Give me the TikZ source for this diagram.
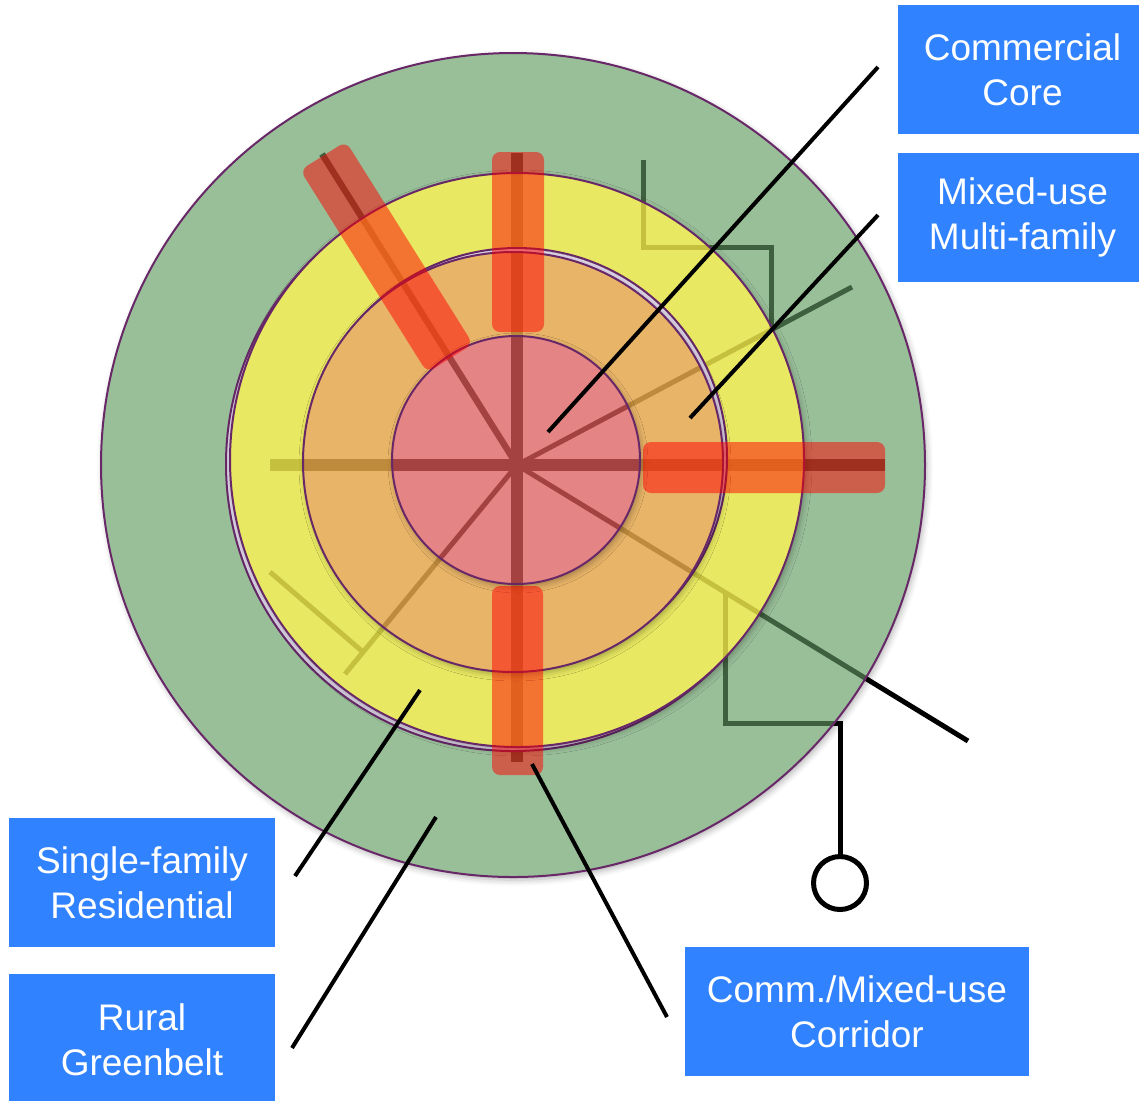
\documentclass[tikz,border=0pt]{standalone}
\usepackage{fontspec}
\setmainfont{Liberation Sans}
\usetikzlibrary{shadows.blur}
\definecolor{gfill}{RGB}{153,191,153}
\definecolor{yfill}{RGB}{232,232,98}
\definecolor{ofill}{RGB}{232,180,104}
\definecolor{pfill}{RGB}{228,132,132}
\definecolor{rim}{RGB}{104,40,104}
\definecolor{rimgap}{RGB}{222,214,232}
\definecolor{gline}{RGB}{63,96,63}
\definecolor{yline}{RGB}{197,193,62}
\definecolor{oline}{RGB}{190,138,60}
\definecolor{pline}{RGB}{164,66,66}
\definecolor{boxblue}{RGB}{48,130,255}
\newcommand{\citylines}{%
  \draw[thickspoke] (hub) -- (517,153);
  \draw[thickspoke] (hub) -- (517,762);
  \draw[thickspoke] (hub) -- (885,465);
  \draw[thickspoke] (hub) -- (270,465);
  \draw[nwspoke] (hub) -- (322,154);
  \draw[thinspoke] (hub) -- (345,674);
  \draw[thinspoke] (270,572) -- (363,652);
  \draw[thinspoke] (hub) -- (852,287);
  \draw[thinspoke] (643,160) -- (643,247) -- (771,247) -- (771,331);
  \draw[thinspoke] (hub) -- (968,741);
  \draw[thinspoke] (725,592) -- (725,723) -- (840,723) -- (840,858);
}
\begin{document}
\begin{tikzpicture}[x=0.5pt,y=-0.5pt,
  thickspoke/.style={line width=6pt},
  thinspoke/.style={line width=2.5pt},
  nwspoke/.style={line width=3.2pt},
  ring/.style={draw=rim, line width=1pt},
  softshadow/.style={blur shadow={shadow xshift=1pt, shadow yshift=-1.5pt, shadow blur radius=3pt, shadow opacity=30}},
  bar/.style={fill=red, fill opacity=0.5, rounded corners=4pt},
  callout/.style={draw=black, line width=2pt},
  zonebox/.style={fill=boxblue, text=white, font=\fontsize{18.5}{22.5}\selectfont, align=center, inner sep=0pt, minimum height=64.5pt}]
\useasboundingbox (0,0) rectangle (1139,1100);
\coordinate (hub) at (517,465);

% base lines (outside all rings)
\begin{scope}[color=black]\citylines\end{scope}

% rural greenbelt
\fill[gfill, softshadow] (513,465) circle (412);
\begin{scope}\clip (513,465) circle (412);
  \begin{scope}[color=gline]\citylines\end{scope}
\end{scope}
\draw[ring] (513,465) circle (412);

% single-family ring
\filldraw[ring, fill=rimgap] (513,464) circle (287);
\fill[yfill, softshadow] (517,460) circle (287);
\begin{scope}\clip (517,460) circle (287);
  \begin{scope}[color=yline]\citylines\end{scope}
\end{scope}
\draw[ring] (517,460) circle (287);

% mixed-use ring
\filldraw[ring, fill=rimgap] (517,458) circle (210);
\fill[ofill, softshadow] (513,462) circle (210);
\begin{scope}\clip (513,462) circle (210);
  \begin{scope}[color=oline]\citylines\end{scope}
\end{scope}
\draw[ring] (513,462) circle (210);

% commercial core
\fill[pfill, softshadow] (516,460) circle (124);
\begin{scope}\clip (516,460) circle (124);
  \begin{scope}[color=pline]\citylines\end{scope}
\end{scope}
\draw[ring] (516,460) circle (124);

% corridor bars
\fill[bar] (492,152) rectangle (544,332);
\fill[bar] (492,586) rectangle (543,775);
\fill[bar] (643,442) rectangle (885,493);
\begin{scope}[shift={(hub)}, rotate=122.1]
  \fill[bar] (126,-27) rectangle (365,27);
\end{scope}

% terminal station
\node[draw=black, circle, line width=2.5pt, fill=white, minimum size=26.5pt, inner sep=0pt] (term) at (840,883) {};

% label boxes
\node[zonebox, minimum width=124.5pt] (cc) at (1022.5,69.5) {Commercial\\Core};
\node[zonebox, minimum width=124.5pt] (mu) at (1022.5,217.5) {Mixed-use\\Multi-family};
\node[zonebox, minimum width=133pt] (sf) at (142,882.5) {Single-family\\Residential};
\node[zonebox, minimum width=133pt, minimum height=66pt] (rg) at (142,1040) {Rural\\Greenbelt};
\node[zonebox, minimum width=172pt] (corr) at (857,1011.5) {Comm./Mixed-use\\Corridor};

% callout ends
\coordinate (ccA) at (878,67);   \coordinate (ccB) at (548,432);
\coordinate (muA) at (878,215);  \coordinate (muB) at (690,418);
\coordinate (sfA) at (295,876);  \coordinate (sfB) at (420,690);
\coordinate (rgA) at (292,1048); \coordinate (rgB) at (436,817);
\coordinate (coA) at (667,1017); \coordinate (coB) at (532,764);
\draw[callout] (ccA) -- (ccB);
\draw[callout] (muA) -- (muB);
\draw[callout] (sfA) -- (sfB);
\draw[callout] (rgA) -- (rgB);
\draw[callout] (coA) -- (coB);
\end{tikzpicture}
\end{document}
